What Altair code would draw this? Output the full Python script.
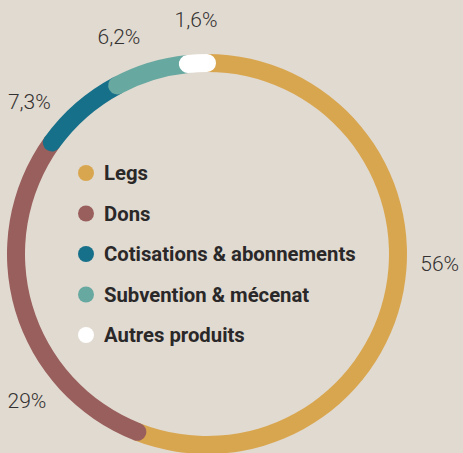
import math
import altair as alt
import pandas as pd

# ---- data ----
categories = ["Legs", "Dons", "Cotisations & abonnements", "Subvention & mécenat", "Autres produits"]
values = [56, 29, 7.3, 6.2, 1.6]
colors = ["#D9A650", "#995F5D", "#17708A", "#67A8A0", "#FFFFFF"]

# ---- layout ----
W, H = 463, 453
CX, CY = 207, 254
R_OUT, R_IN = 200, 182
THICK = R_OUT - R_IN
label_angles_deg = [92.8, 230.6, 310.3, 337.8, 357.3]
LABEL_R = 233

total = sum(values)
# cap extension (round caps), expressed in data units
ext = (THICK / 2) / ((R_OUT + R_IN) / 2) / (2 * math.pi) * total


def fr_pct(v):
    s = f"{v:g}".replace(".", ",")
    return s + "%"


df = pd.DataFrame({
    "cat": categories,
    "value": values,
    "idx": list(range(len(categories))),
})

lab = pd.DataFrame({
    "txt": [fr_pct(v) for v in values],
    "lx": [CX + LABEL_R * math.sin(math.radians(a)) for a in label_angles_deg],
    "ly": [CY - LABEL_R * math.cos(math.radians(a)) for a in label_angles_deg],
})

color_scale = alt.Scale(domain=categories, range=colors)

ring = alt.Chart(df).transform_window(
    cum="sum(value)", sort=[alt.SortField("idx")], frame=[None, 0]
).transform_calculate(
    t0=f"datum.cum - datum.value - {ext}",
    t1=f"datum.cum + {ext}",
).mark_arc(outerRadius=R_OUT, innerRadius=R_IN, cornerRadius=THICK / 2).encode(
    theta=alt.Theta("t0:Q", stack=None, scale=alt.Scale(domain=[0, total], range=[0, 2 * math.pi])),
    theta2=alt.Theta2("t1:Q"),
    color=alt.Color("cat:N", scale=color_scale, legend=None),
    x=alt.value(CX),
    y=alt.value(CY),
    order=alt.Order("idx:Q"),
)

ypos = alt.Y("cat:N", sort=categories, axis=None,
             scale=alt.Scale(type="point", domain=categories, range=[173, 335], padding=0))

leg_dots = alt.Chart(df).mark_circle(size=255, opacity=1).encode(
    x=alt.value(86),
    y=ypos,
    color=alt.Color("cat:N", scale=color_scale, legend=None),
)

leg_text = alt.Chart(df).mark_text(
    align="left", baseline="middle", font="Roboto", fontWeight="bold",
    fontSize=20.3, color="#2A2828", dy=1,
).encode(
    x=alt.value(104),
    y=ypos,
    text="cat:N",
)

pct = alt.Chart(lab).mark_text(
    align="center", baseline="middle", font="Roboto", fontWeight=300,
    fontSize=21, color="#333131",
).encode(
    x=alt.X("lx:Q", scale=None),
    y=alt.Y("ly:Q", scale=None),
    text="txt:N",
)

chart = alt.layer(ring, leg_dots, leg_text, pct).properties(
    width=W, height=H, padding=0, autosize="none", background="#E1DAD0",
).configure_view(stroke=None)

chart.save("out.html", embed_options={"renderer": "svg", "actions": False})
